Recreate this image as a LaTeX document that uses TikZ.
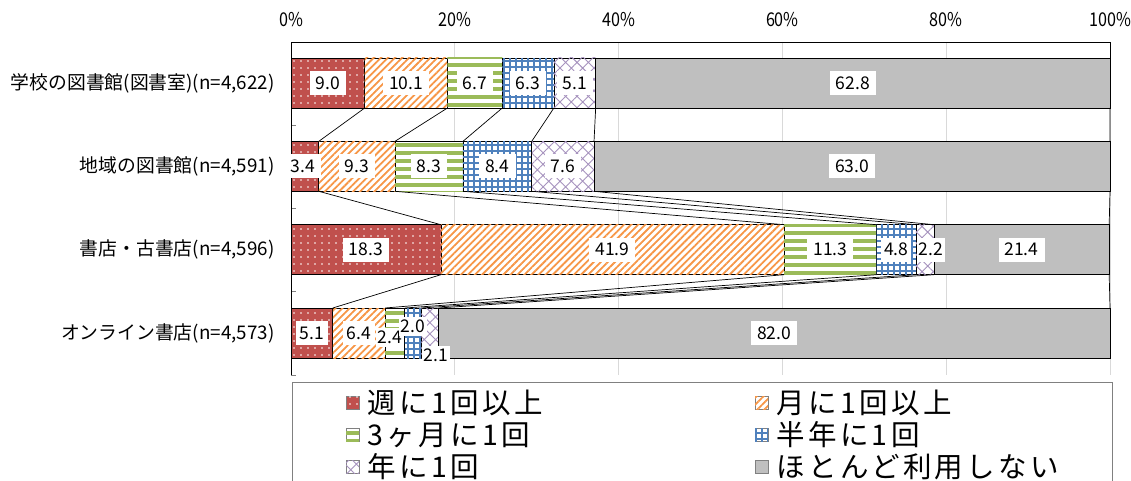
\documentclass[tikz,border=0pt]{standalone}
\usepackage{fontspec}
\setmainfont{Noto Sans CJK JP}
\newfontfamily\tickfont[FakeStretch=0.85]{Noto Sans CJK JP}
\newfontfamily\legfont[LetterSpace=12]{Noto Sans CJK JP}
\usetikzlibrary{positioning,patterns.meta}
\definecolor{wkred}{HTML}{C0504D}
\definecolor{moorange}{HTML}{F79646}
\definecolor{qgreen}{HTML}{9BBB59}
\definecolor{hyblue}{HTML}{4F81BD}
\definecolor{yrpurple}{HTML}{8064A2}
\definecolor{nogray}{HTML}{BFBFBF}
\definecolor{gridgray}{HTML}{D9D9D9}

\begin{document}
\begin{tikzpicture}[x=8.19pt, y=-1pt,
  seg/.style = {draw, line width=0.7pt, inner sep=0pt, outer sep=0pt, minimum height=50pt, minimum width=#1*8.19pt},
  wk/.style = {fill=wkred, postaction={pattern={Dots[radius=0.9pt,distance=7pt]}, pattern color=white}},
  mo/.style = {fill=white, postaction={pattern={Lines[angle=45,distance=5pt,line width=1.8pt]}, pattern color=moorange}},
  qm/.style = {fill=white, postaction={pattern={Lines[angle=0,distance=8pt,line width=4pt]}, pattern color=qgreen}},
  hy/.style = {fill=white, postaction={pattern={Hatch[angle=0,distance=6pt,line width=1.2pt]}, pattern color=hyblue}},
  yr/.style = {fill=white, postaction={pattern={Hatch[angle=45,distance=8pt,line width=0.9pt]}, pattern color=yrpurple!70}},
  no/.style = {fill=nogray},
  val/.style = {fill=white, inner xsep=6pt, inner ysep=0pt, minimum height=24pt, font=\fontsize{17.5}{20}\selectfont},
  sval/.style = {val, inner xsep=2pt, minimum height=19pt},
  cat/.style = {anchor=east, font=\fontsize{18.8}{20}\selectfont},
  tick/.style = {font=\tickfont\fontsize{19}{20}\selectfont},
  lsq/.style = {draw=gray, line width=0.6pt, inner sep=0pt, outer sep=0pt, minimum size=13pt},
  leg/.style = {anchor=west, inner sep=0pt, font=\legfont\fontsize{28.5}{30}\selectfont},
  series/.style = {draw, line width=0.7pt}]
  \useasboundingbox (-35.531,0) rectangle (102.564,481);

  % grid and axis
  \draw[gridgray, line width=0.8pt] (20,42) -- (20,375) (40,42) -- (40,375) (60,42) -- (60,375)
    (80,42) -- (80,375) (100,42) -- (100,375);
  \draw[gray] (0,42) -- (0.61,42) (0,125) -- (0.61,125) (0,208) -- (0.61,208)
    (0,291) -- (0.61,291) (0,375) -- (0.61,375);
  \draw[line width=0.8pt] (0,375) -- (0,42) -- (100,42) -- (100,58);

  \node[tick] (t0) at (0,20) {0\%};
  \node[tick] (t20) at (20,20) {20\%};
  \node[tick] (t40) at (40,20) {40\%};
  \node[tick] (t60) at (60,20) {60\%};
  \node[tick] (t80) at (80,20) {80\%};
  \node[tick] (t100) at (100,20) {100\%};

  \node[cat] (ca) at (-1.6,83) {学校の図書館(図書室)(n=4,622)};
  \node[cat] (cb) at (-1.6,166.3) {地域の図書館(n=4,591)};
  \node[cat] (cc) at (-1.6,249.7) {書店・古書店(n=4,596)};
  \node[cat] (cd) at (-1.6,333) {オンライン書店(n=4,573)};

  % bars
  \node[seg=9.0, wk, anchor=west] (a1) at (0,83) {};
  \node[seg=10.1, mo, right=0pt of a1] (a2) {};
  \node[seg=6.7, qm, right=0pt of a2] (a3) {};
  \node[seg=6.3, hy, right=0pt of a3] (a4) {};
  \node[seg=5.1, yr, right=0pt of a4] (a5) {};
  \node[seg=62.8, no, right=0pt of a5] (a6) {};

  \node[seg=3.4, wk, anchor=west] (b1) at (0,166.3) {};
  \node[seg=9.3, mo, right=0pt of b1] (b2) {};
  \node[seg=8.3, qm, right=0pt of b2] (b3) {};
  \node[seg=8.4, hy, right=0pt of b3] (b4) {};
  \node[seg=7.6, yr, right=0pt of b4] (b5) {};
  \node[seg=63.0, no, right=0pt of b5] (b6) {};

  \node[seg=18.3, wk, anchor=west] (c1) at (0,249.7) {};
  \node[seg=41.9, mo, right=0pt of c1] (c2) {};
  \node[seg=11.3, qm, right=0pt of c2] (c3) {};
  \node[seg=4.8, hy, right=0pt of c3] (c4) {};
  \node[seg=2.2, yr, right=0pt of c4] (c5) {};
  \node[seg=21.4, no, right=0pt of c5] (c6) {};

  \node[seg=5.1, wk, anchor=west] (d1) at (0,333) {};
  \node[seg=6.4, mo, right=0pt of d1] (d2) {};
  \node[seg=2.4, qm, right=0pt of d2] (d3) {};
  \node[seg=2.0, hy, right=0pt of d3] (d4) {};
  \node[seg=2.1, yr, right=0pt of d4] (d5) {};
  \node[seg=82.0, no, right=0pt of d5] (d6) {};

  % series lines
  \draw[series] (a1.south east) -- (b1.north east);
  \draw[series] (a2.south east) -- (b2.north east);
  \draw[series] (a3.south east) -- (b3.north east);
  \draw[series] (a4.south east) -- (b4.north east);
  \draw[series] (a5.south east) -- (b5.north east);
  \draw[series] (a6.south east) -- (b6.north east);
  \draw[series] (b1.south east) -- (c1.north east);
  \draw[series] (b2.south east) -- (c2.north east);
  \draw[series] (b3.south east) -- (c3.north east);
  \draw[series] (b4.south east) -- (c4.north east);
  \draw[series] (b5.south east) -- (c5.north east);
  \draw[series] (b6.south east) -- (c6.north east);
  \draw[series] (c1.south east) -- (d1.north east);
  \draw[series] (c2.south east) -- (d2.north east);
  \draw[series] (c3.south east) -- (d3.north east);
  \draw[series] (c4.south east) -- (d4.north east);
  \draw[series] (c5.south east) -- (d5.north east);
  \draw[series] (c6.south east) -- (d6.north east);

  % values
  \node[val] (va1) at (a1) {9.0};
  \node[val] (va2) at (a2) {10.1};
  \node[val] (va3) at (a3) {6.7};
  \node[val] (va4) at (a4) {6.3};
  \node[val] (va5) at (a5) {5.1};
  \node[val] (va6) at (a6) {62.8};
  \node[val, xshift=-2pt] (vb1) at (b1) {3.4};
  \node[val] (vb2) at (b2) {9.3};
  \node[val] (vb3) at (b3) {8.3};
  \node[val] (vb4) at (b4) {8.4};
  \node[val] (vb5) at (b5) {7.6};
  \node[val] (vb6) at (b6) {63.0};
  \node[val] (vc1) at (c1) {18.3};
  \node[val] (vc2) at (c2) {41.9};
  \node[val] (vc3) at (c3) {11.3};
  \node[val, inner xsep=3pt] (vc4) at (c4) {4.8};
  \node[sval, xshift=6pt, minimum height=24pt] (vc5) at (c5) {2.2};
  \node[val] (vc6) at (c6) {21.4};
  \node[val, inner xsep=4pt] (vd1) at (d1) {5.1};
  \node[val, inner xsep=4pt] (vd2) at (d2) {6.4};
  \node[sval, xshift=-5pt, yshift=-4pt] (vd3) at (d3) {2.4};
  \node[sval, yshift=7pt] (vd4) at (d4) {2.0};
  \node[sval, xshift=6pt, yshift=-22pt] (vd5) at (d5) {2.1};
  \node[val] (vd6) at (d6) {82.0};

  % legend
  \draw[gray, line width=0.8pt] (0.122,495) -- (0.122,382) -- (100.244,382) -- (100.244,495);
  \node[lsq, wk] (k1) at (7.51,403) {};
  \node[leg, right=8pt of k1] (l1) {週に1回以上};
  \node[lsq, mo] (k2) at (57.45,403) {};
  \node[leg, right=8pt of k2] (l2) {月に1回以上};
  \node[lsq, qm] (k3) at (7.51,435) {};
  \node[leg, right=8pt of k3] (l3) {3ヶ月に1回};
  \node[lsq, hy] (k4) at (57.45,435) {};
  \node[leg, right=8pt of k4] (l4) {半年に1回};
  \node[lsq, yr] (k5) at (7.51,467) {};
  \node[leg, right=8pt of k5] (l5) {年に1回};
  \node[lsq, no] (k6) at (57.45,467) {};
  \node[leg, right=8pt of k6] (l6) {ほとんど利用しない};
\end{tikzpicture}
\end{document}
